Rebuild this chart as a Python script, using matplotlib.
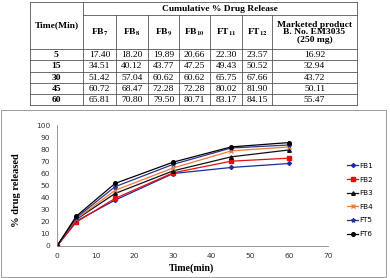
import matplotlib
matplotlib.use("Agg")
import matplotlib.pyplot as plt
from matplotlib.patches import Rectangle

plt.rcParams['mathtext.fontset'] = 'stix'

# table data
tbl_time = ["5", "15", "30", "45", "60"]
tbl_fb7 = ["17.40", "34.51", "51.42", "60.72", "65.81"]
tbl_fb8 = ["18.20", "40.12", "57.04", "68.47", "70.80"]
tbl_fb9 = ["19.89", "43.77", "60.62", "72.28", "79.50"]
tbl_fb10 = ["20.66", "47.25", "60.62", "72.28", "80.71"]
tbl_ft11 = ["22.30", "49.43", "65.75", "80.02", "83.17"]
tbl_ft12 = ["23.57", "50.52", "67.66", "81.90", "84.15"]
tbl_mkt = ["16.92", "32.94", "43.72", "50.11", "55.47"]
tbl_heads = [r"FB$_{\mathbf{7}}$", r"FB$_{\mathbf{8}}$", r"FB$_{\mathbf{9}}$", r"FB$_{\mathbf{10}}$",
             r"FT$_{\mathbf{11}}$", r"FT$_{\mathbf{12}}$", "Marketed product\nB. No. EM3035\n(250 mg)"]

# chart data
time = [0, 5, 15, 30, 45, 60]
fb1 = [0, 20.6, 37.9, 59.9, 64.9, 68.2]
fb2 = [0, 19.8, 39.3, 60.5, 70.1, 72.6]
fb3 = [0, 22.0, 43.4, 62.1, 73.7, 79.4]
fb4 = [0, 22.5, 46.0, 64.5, 78.6, 81.9]
ft5 = [0, 23.5, 49.0, 67.5, 81.0, 83.5]
ft6 = [0, 24.7, 51.7, 69.3, 81.9, 85.5]

W, H = 390, 278
fig = plt.figure(figsize=(3.9, 2.78), dpi=100)

# background axes in pixel coords for the table and box
bg = fig.add_axes([0, 0, 1, 1])
bg.set_xlim(0, W)
bg.set_ylim(H, 0)
bg.axis("off")

cols = [30, 83, 116, 148, 179, 210, 242, 272, 357]
rows = [2, 15, 49, 60, 72, 83, 94, 105]
lc = "#555555"
# outer + grid lines
bg.plot([cols[0], cols[-1]], [rows[0], rows[0]], color=lc, lw=0.6)
bg.plot([cols[1], cols[-1]], [rows[1], rows[1]], color=lc, lw=0.6)
for r in rows[2:]:
    bg.plot([cols[0], cols[-1]], [r, r], color=lc, lw=0.6)
for i, c in enumerate(cols):
    top = rows[1] if 1 < i < len(cols) - 1 else rows[0]
    bg.plot([c, c], [top, rows[-1]], color=lc, lw=0.6)

tf = "Liberation Serif"
fs = 6.8
bg.text((cols[0] + cols[1]) / 2, (rows[0] + rows[2]) / 2, "Time(Min)", ha="center", va="center",
        fontsize=fs, family=tf, weight="bold")
bg.text((cols[1] + cols[-1]) / 2, (rows[0] + rows[1]) / 2 + 0.5, "Cumulative % Drug Release",
        ha="center", va="center", fontsize=fs, family=tf, weight="bold")
for j, h in enumerate(tbl_heads):
    bg.text((cols[j + 1] + cols[j + 2]) / 2, (rows[1] + rows[2]) / 2 + 0.5, h, ha="center", va="center",
            fontsize=fs, family=tf, weight="bold", linespacing=0.95)

columns = [tbl_fb7, tbl_fb8, tbl_fb9, tbl_fb10, tbl_ft11, tbl_ft12, tbl_mkt]
for i, t in enumerate(tbl_time):
    yc = (rows[i + 2] + rows[i + 3]) / 2 + 0.3
    bg.text((cols[0] + cols[1]) / 2, yc, t, ha="center", va="center", fontsize=fs, family=tf, weight="bold")
    for j, col in enumerate(columns):
        bg.text((cols[j + 1] + cols[j + 2]) / 2, yc, col[i], ha="center", va="center",
                fontsize=fs, family=tf)

# chart box
bg.add_patch(Rectangle((0.5, 110), 385.5, 167, fill=False, edgecolor="#8a8a8a", lw=0.6))

# the chart
ax = fig.add_axes([57 / W, 1 - 246 / H, (328 - 57) / W, 121 / H])
series = [
    ("FB1", fb1, "#1f2a9c", "D", 2.0),
    ("FB2", fb2, "#e01010", "s", 2.6),
    ("FB3", fb3, "#111111", "^", 2.6),
    ("FB4", fb4, "#f07a3a", "x", 2.4),
    ("FT5", ft5, "#2b3590", "*", 3.0),
    ("FT6", ft6, "#000000", "o", 2.6),
]
for name, vals, c, m, ms in series:
    ax.plot(time, vals, color=c, marker=m, markersize=ms, lw=0.9, label=name)

ax.set_xlim(0, 70)
ax.set_ylim(0, 100)
ax.set_xticks(range(0, 71, 10))
ax.set_yticks(range(0, 101, 10))
ax.tick_params(labelsize=5.4, length=0, pad=5, colors="#333333")
for s in ["top", "right"]:
    ax.spines[s].set_visible(False)
for s in ["left", "bottom"]:
    ax.spines[s].set_color("#888888")
    ax.spines[s].set_linewidth(0.6)

fig.text(17 / W, 1 - 190 / H, "% drug released", rotation=90, ha="center", va="center",
         fontsize=7.6, family=tf, weight="bold")
fig.text(192 / W, 1 - 268 / H, "Time(min)", ha="center", va="center",
         fontsize=7.2, family=tf, weight="bold")

fig.legend(loc="center left", bbox_to_anchor=(344 / W, 1 - 200 / H), frameon=False,
           fontsize=5.2, labelspacing=1.05, handlelength=1.6, handletextpad=0.15,
           borderaxespad=0)

fig.savefig("out.png", dpi=100)
